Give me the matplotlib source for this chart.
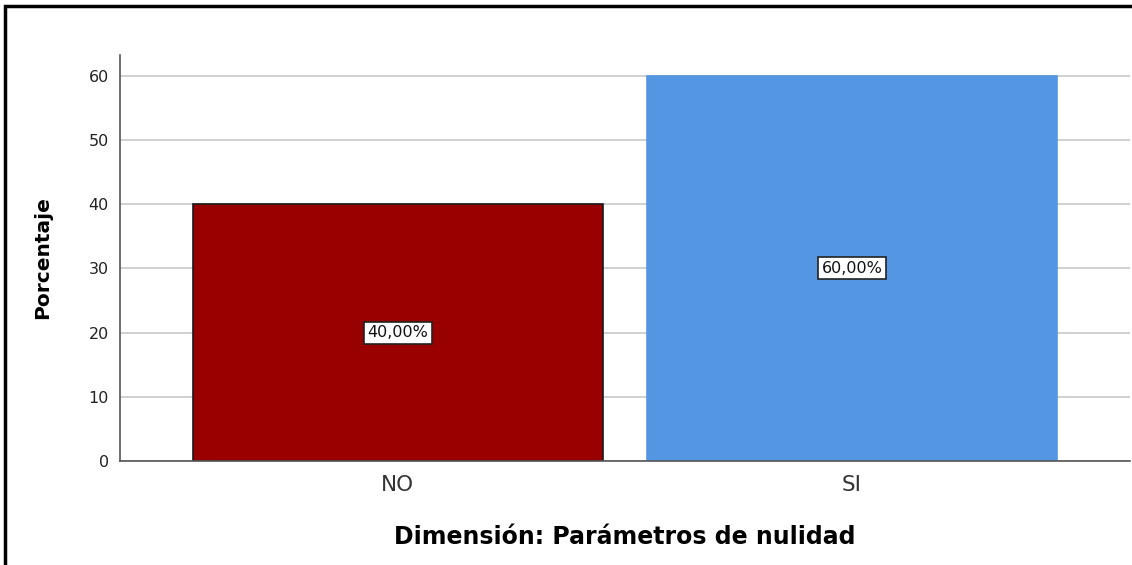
import numpy as np
import matplotlib.pyplot as plt
from matplotlib.patches import Rectangle

plt.rcParams["font.family"] = ["DejaVu Sans"]

# Data
categories = ["NO", "SI"]
values = [40.0, 60.0]
labels = ["40,00%", "60,00%"]
colors = ["#990000", "#5596E3"]
edges = ["#1a1a1a", "#5596E3"]

fig = plt.figure(figsize=(11.32, 5.65), dpi=100)
ax = fig.add_axes([0.106, 0.184, 0.892, 0.7195])

x = np.arange(len(categories))
ax.yaxis.grid(True, color="#c8c8c8", linewidth=1.2, zorder=0)
ax.set_axisbelow(True)
ax.bar(x, values, width=0.903, color=colors, edgecolor=edges, linewidth=1.2, zorder=2)

for xi, v, lab in zip(x, values, labels):
    ax.text(xi, v / 2, lab, ha="center", va="center", fontsize=11.5, color="#111111", zorder=3,
            bbox=dict(boxstyle="square,pad=0.22", facecolor="white", edgecolor="#222222", linewidth=1.2))

ax.set_xlim(-0.612, 1.612)
ax.set_ylim(0, 63.3)
ax.set_yticks([0, 10, 20, 30, 40, 50, 60])
ax.set_xticks(x)
ax.set_xticklabels(categories, fontsize=15.5, color="#333333")
ax.tick_params(axis="y", length=0, labelsize=11.5, pad=8, labelcolor="#222222")
ax.tick_params(axis="x", length=0, pad=10)

for s in ["top", "right"]:
    ax.spines[s].set_visible(False)
for s in ["left", "bottom"]:
    ax.spines[s].set_color("#555555")
    ax.spines[s].set_linewidth(1.2)

ax.set_ylabel("Porcentaje", fontsize=14.5, fontweight="bold", labelpad=26)
ax.set_xlabel("Dimensión: Parámetros de nulidad", fontsize=17, fontweight="bold", labelpad=22)

# outer frame
fig.patches.append(Rectangle((5 / 1132, -0.05), 1.2, 1 - 6 / 565 + 0.05, transform=fig.transFigure,
                             fill=False, edgecolor="black", linewidth=2.5))

fig.savefig("out.png", dpi=100)
